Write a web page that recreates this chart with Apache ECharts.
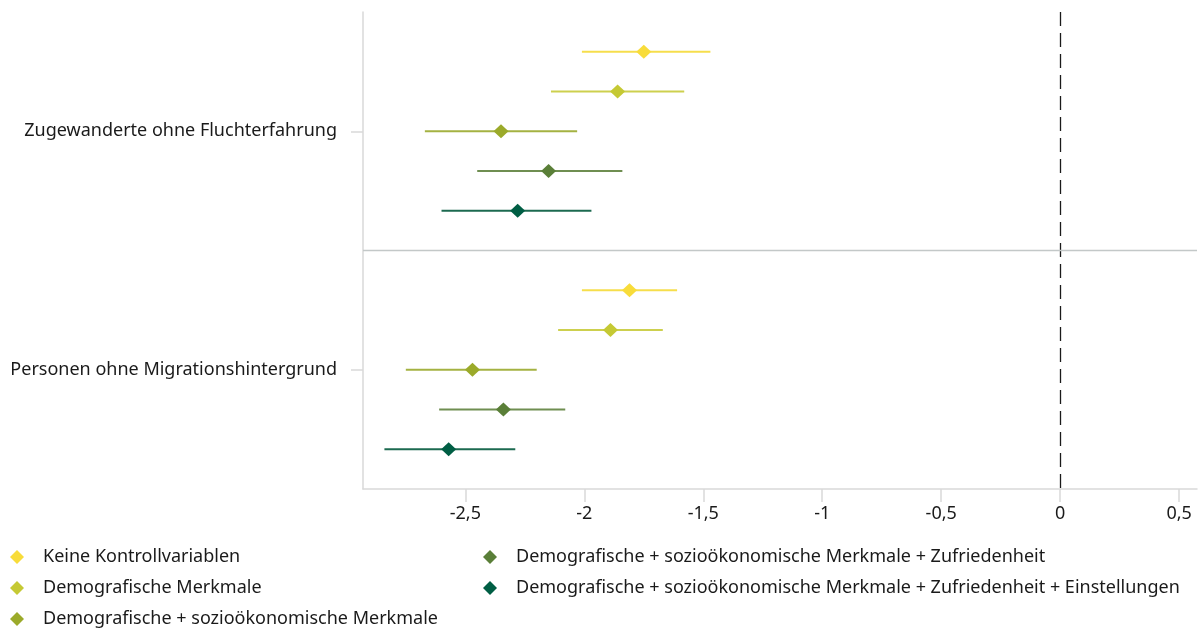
<!DOCTYPE html>
<html>
<head>
<meta charset="utf-8">
<script src="https://cdn.jsdelivr.net/npm/echarts@6/dist/echarts.min.js"></script>
<style>
  html, body { margin: 0; padding: 0; background: #fff; }
  #chart { width: 1198px; height: 633px; }
</style>
</head>
<body>
<div id="chart"></div>
<script>
// ---- data ----
const categories = ['Zugewanderte ohne Fluchterfahrung', 'Personen ohne Migrationshintergrund'];
const seriesNames = [
  'Keine Kontrollvariablen',
  'Demografische Merkmale',
  'Demografische + sozioökonomische Merkmale',
  'Demografische + sozioökonomische Merkmale + Zufriedenheit',
  'Demografische + sozioökonomische Merkmale + Zufriedenheit + Einstellungen'
];
// per category: values in series order
const estimatesZugewanderte = [-1.75, -1.86, -2.35, -2.15, -2.28];
const lowerZugewanderte     = [-2.01, -2.14, -2.67, -2.45, -2.60];
const upperZugewanderte     = [-1.47, -1.58, -2.03, -1.84, -1.97];
const estimatesPersonen     = [-1.81, -1.89, -2.47, -2.34, -2.57];
const lowerPersonen         = [-2.01, -2.11, -2.75, -2.61, -2.84];
const upperPersonen         = [-1.61, -1.67, -2.20, -2.08, -2.29];
const xTickValues = [-2.5, -2, -1.5, -1, -0.5, 0, 0.5];

const estimates = [estimatesZugewanderte, estimatesPersonen];
const lowers = [lowerZugewanderte, lowerPersonen];
const uppers = [upperZugewanderte, upperPersonen];

const pointColors = ['#F8DC3A', '#C5C934', '#9BAA2A', '#5A7F38', '#005E44'];
const lineColors  = ['#F6DE4C', '#CDD04E', '#A4B242', '#6F8E51', '#1C6A50'];

const FONT = 'Noto Sans';
const rowsPerGroup = 6;
const rowOf = (g, s) => g * rowsPerGroup + s + 1;
const catRow = g => g * rowsPerGroup + 3;

const series = [];
seriesNames.forEach((name, s) => {
  // whiskers
  series.push({
    name: name,
    type: 'custom',
    silent: true,
    encode: { x: [0, 1], y: 2 },
    data: categories.map((c, g) => [lowers[g][s], uppers[g][s], rowOf(g, s)]),
    renderItem: function (params, api) {
      const p1 = api.coord([api.value(0), api.value(2)]);
      const p2 = api.coord([api.value(1), api.value(2)]);
      return {
        type: 'line',
        shape: { x1: p1[0], y1: p1[1], x2: p2[0], y2: p2[1] },
        style: { stroke: lineColors[s], lineWidth: 2 }
      };
    },
    z: 2
  });
  // points
  series.push({
    name: name,
    type: 'scatter',
    symbol: 'diamond',
    symbolSize: [15, 14],
    itemStyle: { color: pointColors[s], opacity: 1 },
    data: categories.map((c, g) => [estimates[g][s], rowOf(g, s)]),
    z: 3
  });
});

// reference lines
series.push({
  type: 'scatter',
  data: [],
  silent: true,
  markLine: {
    silent: true,
    symbol: 'none',
    label: { show: false },
    animation: false,
    data: [
      { xAxis: 0, lineStyle: { color: '#1a1a1a', width: 1.3, type: [14, 7] } },
      { yAxis: rowsPerGroup, lineStyle: { color: '#c3c8c8', width: 1.3, type: 'solid' } }
    ]
  }
});

const legendBase = {
  orient: 'vertical',
  icon: 'diamond',
  itemWidth: 14,
  itemHeight: 14,
  itemGap: 13,
  top: 548,
  height: 85,
  padding: 0,
  selectedMode: false,
  textStyle: { fontFamily: FONT, fontSize: 18, lineHeight: 18, color: '#1a1a1a', padding: [0, 0, 0, 14] }
};

const option = {
  animation: false,
  backgroundColor: '#ffffff',
  grid: { left: 363, right: 1, top: 12, bottom: 144, containLabel: false },
  legend: [
    Object.assign({}, legendBase, {
      left: 10,
      data: seriesNames.slice(0, 3).map((n, i) => ({ name: n, itemStyle: { color: pointColors[i] } }))
    }),
    Object.assign({}, legendBase, {
      left: 483,
      data: seriesNames.slice(3).map((n, i) => ({ name: n, itemStyle: { color: pointColors[i + 3] } }))
    })
  ],
  xAxis: {
    type: 'value',
    position: 'bottom',
    min: -2.93,
    max: 0.575,
    axisLine: { show: true, onZero: false, lineStyle: { color: '#d9d9d9', width: 1.5 } },
    axisTick: { show: true, customValues: xTickValues, length: 13, lineStyle: { color: '#d9d9d9', width: 1.5 } },
    axisLabel: {
      customValues: xTickValues,
      margin: 16,
      fontFamily: FONT,
      fontSize: 18,
      color: '#1a1a1a',
      formatter: v => String(v).replace('.', ',')
    },
    splitLine: { show: false }
  },
  yAxis: {
    type: 'value',
    position: 'left',
    inverse: true,
    min: 0,
    max: rowsPerGroup * categories.length,
    axisLine: { show: true, onZero: false, lineStyle: { color: '#d9d9d9', width: 1.5 } },
    axisTick: { show: true, customValues: categories.map((c, g) => catRow(g)), length: 12, lineStyle: { color: '#d9d9d9', width: 1.5 } },
    axisLabel: {
      customValues: categories.map((c, g) => catRow(g)),
      margin: 26,
      fontFamily: FONT,
      fontSize: 18,
      color: '#1a1a1a',
      formatter: v => categories[Math.round((v - 3) / rowsPerGroup)]
    },
    splitLine: { show: false }
  },
  series: series
};

const chart = echarts.init(document.getElementById('chart'), null, { renderer: 'canvas' });
chart.setOption(option);
</script>
</body>
</html>
